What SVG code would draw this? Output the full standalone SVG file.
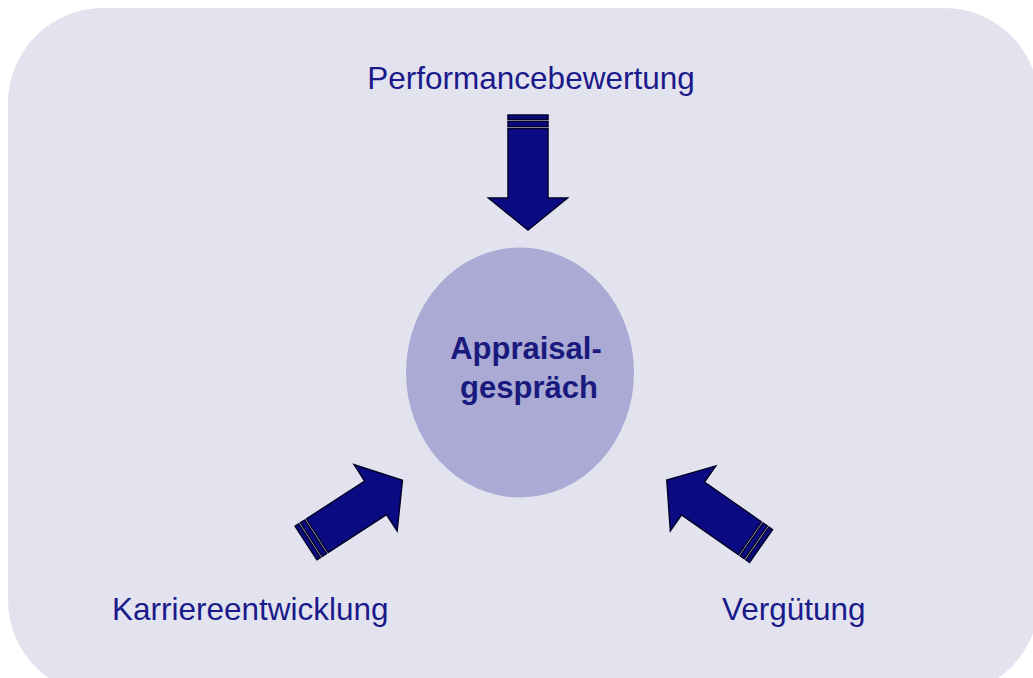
<svg xmlns="http://www.w3.org/2000/svg" width="1033" height="678" viewBox="0 0 1033 678">
  <style>
    .lbl { font-family: "Liberation Sans", Arial, sans-serif; font-size: 31.5px; fill: #1a1a8a; }
    .ctr { font-family: "Liberation Sans", Arial, sans-serif; font-size: 31px; font-weight: bold; fill: #1a1a7e; text-anchor: middle; }
    .arr { fill: #0a0a82; stroke: #00002a; stroke-width: 1.5; stroke-linejoin: miter; }
  </style>
  <defs>
    <g id="blockArrow">
      <rect class="arr" x="0" y="-20" width="4.3" height="40"/>
      <rect class="arr" x="6.3" y="-20" width="5.2" height="40"/>
      <polygon class="arr" points="13.5,-20 83,-20 83,-39.5 115,0 83,39.5 83,20 13.5,20"/>
    </g>
  </defs>
  <rect width="1033" height="678" fill="#ffffff"/>
  <g id="background">
    <rect x="8" y="8" width="1031" height="687" rx="95" ry="95" fill="#e3e3f0"/>
  </g>
  <g id="connectors">
    <use href="#blockArrow" transform="translate(528,115) rotate(90)"/>
    <use href="#blockArrow" transform="translate(306,543) rotate(-33)"/>
    <use href="#blockArrow" transform="translate(761,546) rotate(-145)"/>
  </g>
  <g id="node-center">
    <ellipse cx="520" cy="372.5" rx="114" ry="125" fill="#aaaad4"/>
    <text class="ctr" x="526" y="359">Appraisal-</text>
    <text class="ctr" x="529" y="398">gespräch</text>
  </g>
  <g id="node-performance">
    <text class="lbl" x="531" y="89" text-anchor="middle">Performancebewertung</text>
  </g>
  <g id="node-karriere">
    <text class="lbl" x="112" y="620">Karriereentwicklung</text>
  </g>
  <g id="node-verguetung">
    <text class="lbl" x="722" y="620">Vergütung</text>
  </g>
</svg>
